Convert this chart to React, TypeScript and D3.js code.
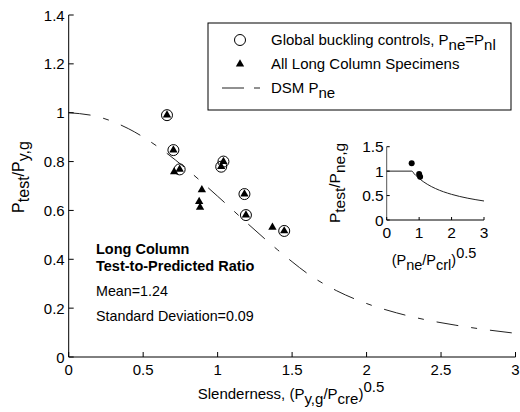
import React from "react";
import * as d3 from "d3";

// Main plot data
const globalX = [0.66, 0.703, 0.745, 1.024, 1.039, 1.18, 1.19, 1.447];
const globalY = [0.99, 0.847, 0.768, 0.779, 0.8, 0.667, 0.581, 0.516];
const longX = [0.66, 0.703, 0.745, 1.024, 1.039, 1.18, 1.19, 1.447, 0.708, 0.894, 0.876, 0.882, 1.368];
const longY = [0.99, 0.847, 0.768, 0.779, 0.8, 0.667, 0.581, 0.516, 0.758, 0.684, 0.636, 0.613, 0.531];

// DSM global curve
const dsmX = [0, 0.2, 0.4, 0.6, 0.8, 1.0, 1.2, 1.4, 1.5, 1.6, 1.8, 2.0, 2.2, 2.4, 2.6, 2.8, 3.0];
const dsmY = [1.0, 0.983, 0.935, 0.86, 0.765, 0.658, 0.547, 0.44, 0.39, 0.343, 0.271, 0.219, 0.181, 0.152, 0.13, 0.112, 0.097];

// Inset data
const insetPtX = [0.77, 1.0, 1.03];
const insetPtY = [1.16, 0.94, 0.885];
const insetCurveX = [0, 0.776, 0.85, 0.9, 1.0, 1.25, 1.5, 2.0, 2.5, 3.0];
const insetCurveY = [1, 1, 0.944, 0.91, 0.85, 0.732, 0.645, 0.525, 0.446, 0.389];

const xTicks = [0, 0.5, 1, 1.5, 2, 2.5, 3];
const xTickLabels = ["0", "0.5", "1", "1.5", "2", "2.5", "3"];
const yTicks = [0, 0.2, 0.4, 0.6, 0.8, 1, 1.2, 1.4];
const yTickLabels = ["0", "0.2", "0.4", "0.6", "0.8", "1", "1.2", "1.4"];
const insetXTicks = [0, 1, 2, 3];
const insetYTicks = [0, 0.5, 1, 1.5];
const insetYTickLabels = ["0", "0.5", "1", "1.5"];

const legendLabels = ["Global buckling controls, ", "All Long Column Specimens", "DSM "];
const noteLines = ["Long Column", "Test-to-Predicted Ratio", "Mean=1.24", "Standard Deviation=0.09"];

const FONT = "'Liberation Sans', Arial, Helvetica, sans-serif";

export default function App() {
  const x = d3.scaleLinear().domain([0, 3]).range([68.7, 515.5]);
  const y = d3.scaleLinear().domain([0, 1.4]).range([357, 15]);
  const xi = d3.scaleLinear().domain([0, 3]).range([386.7, 484]);
  const yi = d3.scaleLinear().domain([0, 1.5]).range([220, 146.7]);

  const dsmLine = d3
    .line<number>()
    .x((_, i) => x(dsmX[i]))
    .y((d) => y(d))
    .curve(d3.curveMonotoneX)(dsmY) as string;

  const insetLine = d3
    .line<number>()
    .x((_, i) => xi(insetCurveX[i]))
    .y((d) => yi(d))
    .curve(d3.curveMonotoneX)(insetCurveY) as string;

  const tri = d3.symbol().type(d3.symbolTriangle).size(30)() as string;
  const dash = "22,13,6,13";

  return (
    <svg
      width={520}
      height={412}
      style={{ position: "absolute", left: 0, top: 0, background: "#fff" }}
      fontFamily={FONT}
    >
      <rect x={0} y={0} width={520} height={412} fill="#fff" />

      {/* DSM curve */}
      <path d={dsmLine} fill="none" stroke="#222" strokeWidth={1} strokeDasharray={dash} />

      {/* main axes */}
      <line x1={x(0)} x2={x(0)} y1={y(1.4)} y2={y(0)} stroke="#000" />
      <line x1={x(0)} x2={x(3)} y1={y(0)} y2={y(0)} stroke="#000" />
      {yTicks.map((t, i) => (
        <g key={"yt" + i}>
          <line x1={x(0)} x2={x(0) + 5} y1={y(t)} y2={y(t)} stroke="#000" />
          <text x={x(0) - 4} y={y(t) + 5.5} textAnchor="end" fontSize={15}>
            {yTickLabels[i]}
          </text>
        </g>
      ))}
      {xTicks.map((t, i) => (
        <g key={"xt" + i}>
          <line x1={x(t)} x2={x(t)} y1={y(0)} y2={y(0) - 5} stroke="#000" />
          <text x={x(t)} y={375} textAnchor="middle" fontSize={15}>
            {xTickLabels[i]}
          </text>
        </g>
      ))}

      {/* axis labels */}
      <text x={291} y={399} textAnchor="middle" fontSize={15}>
        Slenderness, (P<tspan dy={5}>y,g</tspan>
        <tspan dy={-5}>/P</tspan>
        <tspan dy={5}>cre</tspan>
        <tspan dy={-5}>)</tspan>
        <tspan dy={-7}>0.5</tspan>
      </text>
      <text transform="translate(24,177) rotate(-90)" textAnchor="middle" fontSize={16}>
        P<tspan dy={5}>test</tspan>
        <tspan dy={-5}>/P</tspan>
        <tspan dy={5}>y,g</tspan>
      </text>

      {/* data: long column triangles */}
      {longX.map((d, i) => (
        <path key={"tr" + i} d={tri} transform={`translate(${x(d)},${y(longY[i])})`} fill="#000" />
      ))}
      {globalX.map((d, i) => (
        <circle key={"c" + i} cx={x(d)} cy={y(globalY[i])} r={5.5} fill="none" stroke="#000" strokeWidth={1} />
      ))}

      {/* annotation */}
      <text x={96} y={254} fontSize={14.5} fontWeight="bold">{noteLines[0]}</text>
      <text x={96} y={271} fontSize={14.5} fontWeight="bold">{noteLines[1]}</text>
      <text x={96} y={296} fontSize={14.3}>{noteLines[2]}</text>
      <text x={96} y={321} fontSize={14.3}>{noteLines[3]}</text>

      {/* legend */}
      <rect x={208} y={23} width={303} height={87} fill="#fff" stroke="#000" strokeWidth={1} />
      <circle cx={240} cy={40} r={5.5} fill="none" stroke="#000" />
      <path d={tri} transform="translate(240,64)" fill="#000" />
      <line x1={222} x2={262} y1={88} y2={88} stroke="#222" strokeDasharray="22,10,6,20" />
      <text x={271} y={45} fontSize={15}>
        {legendLabels[0]}P<tspan dy={5}>ne</tspan>
        <tspan dy={-5}>=P</tspan>
        <tspan dy={5}>nl</tspan>
      </text>
      <text x={271} y={69} fontSize={15}>{legendLabels[1]}</text>
      <text x={271} y={93} fontSize={15}>
        {legendLabels[2]}P<tspan dy={5}>ne</tspan>
      </text>

      {/* inset */}
      <path d={insetLine} fill="none" stroke="#222" strokeWidth={1} />
      <line x1={xi(0)} x2={xi(0)} y1={yi(1.5)} y2={yi(0)} stroke="#555" />
      <line x1={xi(0)} x2={xi(3)} y1={yi(0)} y2={yi(0)} stroke="#000" />
      {insetYTicks.map((t, i) => (
        <g key={"iyt" + i}>
          <line x1={xi(0)} x2={xi(0) + 3} y1={yi(t)} y2={yi(t)} stroke="#000" />
          <text x={xi(0) - 3} y={yi(t) + 5.5} textAnchor="end" fontSize={15.5}>
            {insetYTickLabels[i]}
          </text>
        </g>
      ))}
      {insetXTicks.map((t, i) => (
        <g key={"ixt" + i}>
          <line x1={xi(t)} x2={xi(t)} y1={yi(0)} y2={yi(0) - 3} stroke="#000" />
          <text x={xi(t)} y={238} textAnchor="middle" fontSize={15.5}>
            {String(t)}
          </text>
        </g>
      ))}
      {insetPtX.map((d, i) => (
        <circle key={"ip" + i} cx={xi(d)} cy={yi(insetPtY[i])} r={3} fill="#000" />
      ))}
      <text x={434} y={265} textAnchor="middle" fontSize={14.5}>
        (P<tspan dy={5}>ne</tspan>
        <tspan dy={-5}>/P</tspan>
        <tspan dy={5}>crl</tspan>
        <tspan dy={-5}>)</tspan>
        <tspan dy={-7}>0.5</tspan>
      </text>
      <text transform="translate(340,183) rotate(-90)" textAnchor="middle" fontSize={15.5}>
        P<tspan dy={5}>test</tspan>
        <tspan dy={-5}>/P</tspan>
        <tspan dy={5}>ne,g</tspan>
      </text>
    </svg>
  );
}
